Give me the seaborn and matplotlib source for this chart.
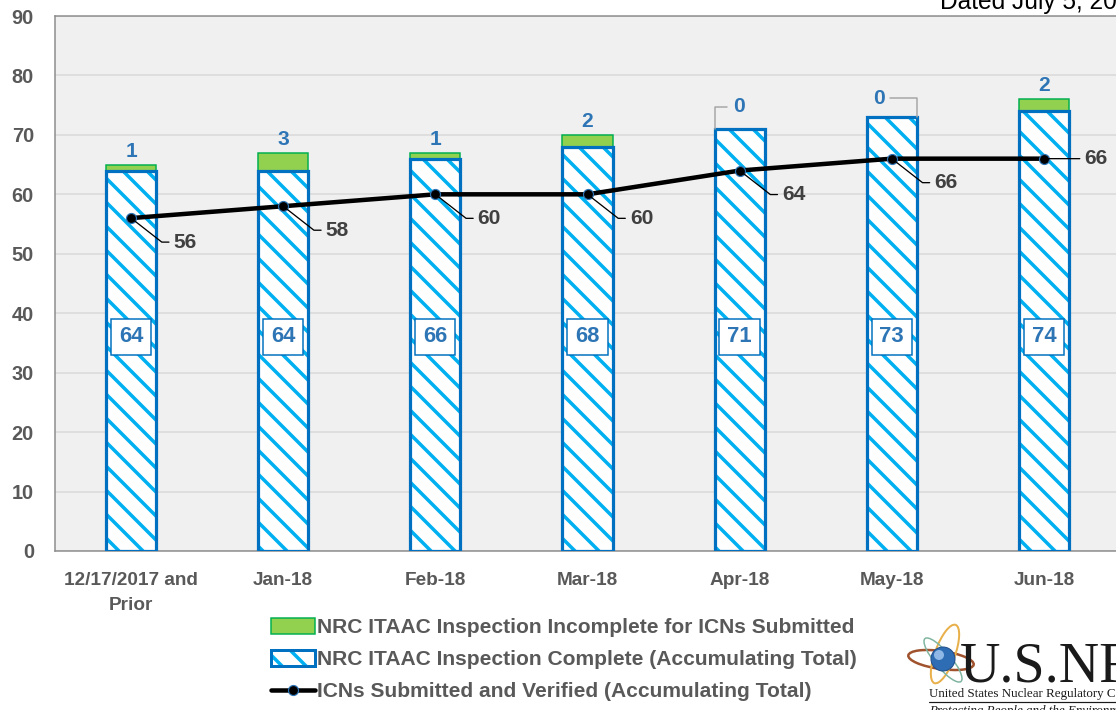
import numpy as np
import pandas as pd
import matplotlib
matplotlib.use("Agg")
import matplotlib.pyplot as plt
import seaborn as sns
from matplotlib.patches import Patch, Ellipse, Circle
from matplotlib.lines import Line2D

# ---------------- data ----------------
categories = ["12/17/2017 and\nPrior", "Jan-18", "Feb-18", "Mar-18",
              "Apr-18", "May-18", "Jun-18"]
complete = [64, 64, 66, 68, 71, 73, 74]
incomplete = [1, 3, 1, 2, 0, 0, 2]
verified = [56, 58, 60, 60, 64, 66, 66]
y_ticks = [0, 10, 20, 30, 40, 50, 60, 70, 80, 90]
legend_labels = ["NRC ITAAC Inspection Incomplete for ICNs Submitted",
                 "NRC ITAAC Inspection Complete (Accumulating Total)",
                 "ICNs Submitted and Verified (Accumulating Total)"]
dated_text = "Dated July 5, 2018"

# ---------------- style ----------------
sns.set_theme(style="white")
plt.rcParams["font.family"] = ["Liberation Sans", "DejaVu Sans"]
plt.rcParams["hatch.linewidth"] = 3.5

W, H, DPI = 1116, 710, 72
fig = plt.figure(figsize=(W / DPI, H / DPI), dpi=DPI)
fig.patch.set_facecolor("white")


def px(x0, y0, x1, y1):
    return [x0 / W, 1 - y1 / H, (x1 - x0) / W, (y1 - y0) / H]


ax = fig.add_axes(px(55, 16, 1120, 551))
ax.set_facecolor("#F0F0F0")

df = pd.DataFrame({"cat": categories, "complete": complete,
                   "incomplete": incomplete, "verified": verified})
df["total"] = df["complete"] + df["incomplete"]

GREEN, GREEN_EDGE = "#92D050", "#00B050"
HATCH_BLUE, EDGE_BLUE = "#00B0F0", "#0070C0"
LABEL_BLUE = "#2E75B6"
GREY_TXT = "#595959"
DARK_TXT = "#404040"
bw = 0.33

# green (total) bars behind
n0 = len(ax.patches)
sns.barplot(data=df, x="cat", y="total", color=GREEN, width=bw,
            saturation=1, ax=ax, zorder=2)
for p in ax.patches[n0:]:
    p.set_facecolor(GREEN)
    p.set_edgecolor(GREEN_EDGE)
    p.set_linewidth(1.5)

# hatched complete bars
n1 = len(ax.patches)
sns.barplot(data=df, x="cat", y="complete", color="white", width=bw,
            saturation=1, ax=ax, zorder=3)
for p in ax.patches[n1:]:
    p.set_facecolor("white")
    p.set_edgecolor(HATCH_BLUE)
    p.set_hatch("\\")
    p.set_linewidth(0)

# outline of complete bars
n2 = len(ax.patches)
sns.barplot(data=df, x="cat", y="complete", color="white", width=bw,
            saturation=1, ax=ax, zorder=4)
for p in ax.patches[n2:]:
    p.set_facecolor("none")
    p.set_edgecolor(EDGE_BLUE)
    p.set_linewidth(3.2)

# verified line
nl = len(ax.lines)
sns.pointplot(data=df, x="cat", y="verified", color="black", errorbar=None,
              markers="o", linestyles="-", ax=ax, zorder=6)
for ln in ax.lines[nl:]:
    ln.set_linewidth(4.5)
    ln.set_markersize(10)
    ln.set_markerfacecolor("black")
    ln.set_markeredgecolor(LABEL_BLUE)
    ln.set_markeredgewidth(1.2)
    ln.set_zorder(6)

# ---------------- labels ----------------
LBL = 21
n = len(categories)
for i in range(n):
    tot = complete[i] + incomplete[i]
    # incomplete labels
    if incomplete[i] > 0:
        ax.annotate(str(incomplete[i]), xy=(i, tot), xytext=(0, 4),
                    textcoords="offset points", ha="center", va="bottom",
                    fontsize=LBL, fontweight="bold", color=LABEL_BLUE, zorder=8)
    else:
        if i % 2 == 0:
            xy = (i - bw / 2, tot)
            off = (24, 22)
        else:
            xy = (i + bw / 2, tot)
            off = (-38, 19)
        ax.annotate(str(incomplete[i]), xy=xy, xytext=off,
                    textcoords="offset points", ha="center", va="center",
                    fontsize=LBL, fontweight="bold", color=LABEL_BLUE, zorder=8,
                    arrowprops=dict(arrowstyle="-", color="#A6A6A6", lw=1.5,
                                    shrinkA=3, shrinkB=0,
                                    connectionstyle="angle,angleA=0,angleB=90,rad=0"))
    # complete labels in box
    ax.text(i, 36, str(complete[i]), ha="center", va="center", fontsize=22,
            fontweight="bold", color=LABEL_BLUE, zorder=8,
            bbox=dict(boxstyle="square,pad=0.36", fc="white", ec=EDGE_BLUE, lw=1.5))
    # verified labels
    if i < n - 1:
        ax.annotate(str(verified[i]), xy=(i, verified[i]), xytext=(54, -24),
                    textcoords="offset points", ha="center", va="center",
                    fontsize=LBL, fontweight="bold", color=DARK_TXT, zorder=8,
                    arrowprops=dict(arrowstyle="-", color="black", lw=1.3,
                                    shrinkA=2, shrinkB=3,
                                    connectionstyle="angle,angleA=0,angleB=-38,rad=0"))
    else:
        ax.annotate(str(verified[i]), xy=(i, verified[i]), xytext=(52, 0),
                    textcoords="offset points", ha="center", va="center",
                    fontsize=LBL, fontweight="bold", color=DARK_TXT, zorder=8,
                    arrowprops=dict(arrowstyle="-", color="black", lw=1.3,
                                    shrinkA=2, shrinkB=3))

# ---------------- axes ----------------
ax.set_ylim(0, 90)
ax.set_xlim(-0.5, n - 0.5)
ax.set_yticks(y_ticks)
ax.set_yticklabels([str(v) for v in y_ticks], fontsize=20, fontweight="bold",
                   color=GREY_TXT)
ax.set_xticks(range(n))
ax.set_xticklabels(categories, fontsize=19, fontweight="bold", color=GREY_TXT,
                   linespacing=1.6)
ax.tick_params(axis="both", length=0)
ax.tick_params(axis="y", pad=21)
ax.tick_params(axis="x", pad=21)
ax.set_xlabel("")
ax.set_ylabel("")
ax.yaxis.grid(True, color="#D9D9D9", linewidth=1.5, zorder=0)
ax.set_axisbelow(True)
for s in ["left", "bottom", "top"]:
    ax.spines[s].set_visible(True)
    ax.spines[s].set_color("#8C8C8C")
    ax.spines[s].set_linewidth(1.5)
ax.spines["right"].set_visible(False)

# ---------------- legend ----------------
h_green = Patch(facecolor=GREEN, edgecolor=GREEN_EDGE, linewidth=1.5)
h_hatch = Patch(facecolor="white", edgecolor=HATCH_BLUE, hatch="\\", linewidth=0)
h_outline = Patch(facecolor="none", edgecolor=EDGE_BLUE, linewidth=3)
h_line = Line2D([], [], color="black", lw=4.5, marker="o", markersize=10,
                markerfacecolor="black", markeredgecolor=LABEL_BLUE,
                markeredgewidth=1.2)
leg = fig.legend([h_green, (h_hatch, h_outline), h_line], legend_labels,
                 loc="upper left", bbox_to_anchor=(271 / W, 1 - 618 / H),
                 frameon=False, prop={"size": 21, "weight": "bold"},
                 handlelength=2.1, handleheight=0.76, handletextpad=0.1,
                 labelspacing=0.62, borderaxespad=0, borderpad=0)
for t in leg.get_texts():
    t.set_color(GREY_TXT)

# ---------------- header text ----------------
fig.text(940 / W, 1 - 9 / H, dated_text, fontsize=24.5, color="black",
         ha="left", va="baseline")

# ---------------- logo ----------------
lax = fig.add_axes(px(905, 622, 985, 690))
lax.set_xlim(0, 80)
lax.set_ylim(0, 68)
lax.set_aspect("equal")
lax.axis("off")
lax.add_patch(Ellipse((36, 30), 66, 18, angle=-8, fill=False, ec="#A0522D", lw=2.5))
lax.add_patch(Ellipse((40, 36), 62, 20, angle=70, fill=False, ec="#E8B04A", lw=2))
lax.add_patch(Ellipse((38, 30), 56, 16, angle=-50, fill=False, ec="#7FB5A0", lw=1.5))
lax.add_patch(Circle((38, 31), 12, fc="#2E6DB4", ec="#1F4E8C", lw=1))
lax.add_patch(Circle((34, 35), 5, fc="#8FB8E6", ec="none"))
fig.text(960 / W, 1 - 681 / H, "U.S.NRC", fontsize=56,
         family=["Liberation Serif", "DejaVu Serif"], color="#1A1A1A",
         ha="left", va="baseline")
fig.text(929 / W, 1 - 697 / H, "United States Nuclear Regulatory Commission",
         fontsize=13, family=["Liberation Serif", "DejaVu Serif"], color="#1A1A1A",
         ha="left", va="baseline")
fig.add_artist(Line2D([929 / W, 1.0], [1 - 702 / H, 1 - 702 / H],
                      color="#1A1A1A", lw=1.2))
fig.text(929 / W, 1 - 705 / H, "Protecting People and the Environment",
         fontsize=13, style="italic", family=["Liberation Serif", "DejaVu Serif"],
         color="#1A1A1A", ha="left", va="top")

fig.savefig("out.png", dpi=DPI, facecolor="white")
